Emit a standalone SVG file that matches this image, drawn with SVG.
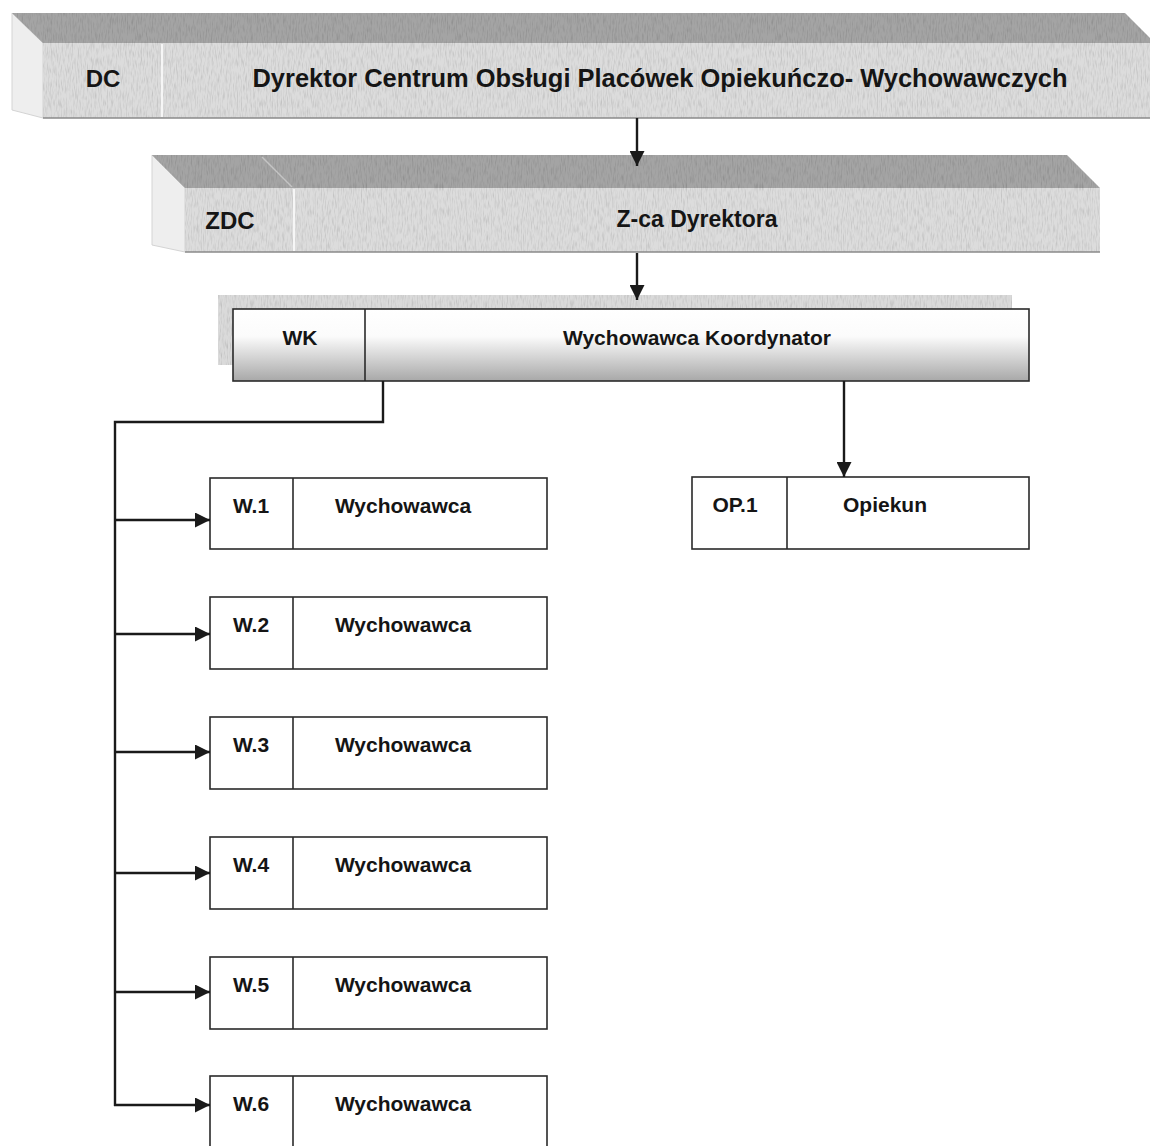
<svg xmlns="http://www.w3.org/2000/svg" width="1150" height="1146" viewBox="0 0 1150 1146">
  <defs>
    <style>
      .t { font-family: "Liberation Sans", Arial, sans-serif; font-weight: bold; fill: #151515; text-anchor: middle; }
      .big { font-size: 25px; }
      .mid { font-size: 24px; }
      .sm { font-size: 21px; }
      .box { fill: #ffffff; stroke: #2a2a2a; stroke-width: 1.6; }
      .div { stroke: #2a2a2a; stroke-width: 1.6; }
      .front { fill: #dcdcdc; }
      .top { fill: #a4a4a4; }
      .side { fill: #eeeeee; stroke: #d4d4d4; stroke-width: 1; }
      .lightdiv { stroke: #f6f6f6; stroke-width: 2; }
      .edge { stroke: #8a8a8a; stroke-width: 1.5; }
      .conn { fill: none; stroke: #1a1a1a; stroke-width: 2.4; }
    </style>
    <filter id="grain" x="0" y="0" width="1" height="1">
      <feTurbulence type="fractalNoise" baseFrequency="0.8 0.12" numOctaves="2" seed="4" result="n"/>
      <feColorMatrix in="n" type="matrix" values="0 0 0 0 0  0 0 0 0 0  0 0 0 0 0  0.55 0 0 0 -0.24" result="a"/>
      <feComposite in="a" in2="SourceGraphic" operator="in" result="g"/>
      <feMerge>
        <feMergeNode in="SourceGraphic"/>
        <feMergeNode in="g"/>
      </feMerge>
    </filter>
    <linearGradient id="wkGrad" x1="0" y1="0" x2="0" y2="1">
      <stop offset="0" stop-color="#ffffff"/>
      <stop offset="0.38" stop-color="#fbfbfb"/>
      <stop offset="1" stop-color="#a8a8a8"/>
    </linearGradient>
    <marker id="arr" viewBox="0 0 15 15" refX="15" refY="7.5" markerWidth="15" markerHeight="15" markerUnits="userSpaceOnUse" orient="auto">
      <path d="M0,0 L15,7.5 L0,15 z" fill="#1a1a1a"/>
    </marker>
  </defs>

  <rect x="0" y="0" width="1150" height="1146" fill="#ffffff"/>

  <g id="node-dc">
    <polygon class="side" points="12,13 43,43 43,118 12,110"/>
    <polygon class="top" filter="url(#grain)" points="12,13 1125,13 1150,38 1150,43 43,43"/>
    <rect class="front" filter="url(#grain)" x="43" y="43" width="1107" height="75"/>
    <line class="lightdiv" x1="162" y1="44" x2="162" y2="117"/>
    <line class="edge" x1="43" y1="118" x2="1150" y2="118"/>
    <text class="t mid" x="103" y="87">DC</text>
    <text class="t big" x="660" y="87" textLength="815" lengthAdjust="spacingAndGlyphs">Dyrektor Centrum Obsługi Placówek Opiekuńczo- Wychowawczych</text>
  </g>

  <g id="node-zdc">
    <polygon class="side" points="152,155 185,188 185,252 152,245"/>
    <polygon class="top" filter="url(#grain)" points="152,155 1067,155 1100,188 185,188"/>
    <line x1="262" y1="157" x2="292" y2="187" stroke="#c4c4c4" stroke-width="1.5"/>
    <rect class="front" filter="url(#grain)" x="185" y="188" width="915" height="64"/>
    <line class="lightdiv" x1="294" y1="189" x2="294" y2="251"/>
    <line class="edge" x1="185" y1="252" x2="1100" y2="252"/>
    <text class="t mid" x="230" y="229">ZDC</text>
    <text class="t mid" x="697" y="227" textLength="161" lengthAdjust="spacingAndGlyphs">Z-ca Dyrektora</text>
  </g>

  <g id="node-wk">
    <rect x="218" y="295" width="794" height="70" fill="#dadada" filter="url(#grain)"/>
    <rect x="233" y="309" width="796" height="72" fill="url(#wkGrad)" stroke="#2a2a2a" stroke-width="1.6"/>
    <line class="div" x1="365" y1="309" x2="365" y2="381"/>
    <text class="t sm" x="300" y="345">WK</text>
    <text class="t sm" x="697" y="345">Wychowawca Koordynator</text>
  </g>

  <g id="node-op1">
    <rect class="box" x="692" y="477" width="337" height="72"/>
    <line class="div" x1="787" y1="477" x2="787" y2="549"/>
    <text class="t sm" x="735" y="512">OP.1</text>
    <text class="t sm" x="885" y="512">Opiekun</text>
  </g>

  <g id="node-w1">
    <rect class="box" x="210" y="478" width="337" height="71"/>
    <line class="div" x1="293" y1="478" x2="293" y2="549"/>
    <text class="t sm" x="251" y="513">W.1</text>
    <text class="t sm" x="403" y="513">Wychowawca</text>
  </g>
  <g id="node-w2">
    <rect class="box" x="210" y="597" width="337" height="72"/>
    <line class="div" x1="293" y1="597" x2="293" y2="669"/>
    <text class="t sm" x="251" y="632">W.2</text>
    <text class="t sm" x="403" y="632">Wychowawca</text>
  </g>
  <g id="node-w3">
    <rect class="box" x="210" y="717" width="337" height="72"/>
    <line class="div" x1="293" y1="717" x2="293" y2="789"/>
    <text class="t sm" x="251" y="752">W.3</text>
    <text class="t sm" x="403" y="752">Wychowawca</text>
  </g>
  <g id="node-w4">
    <rect class="box" x="210" y="837" width="337" height="72"/>
    <line class="div" x1="293" y1="837" x2="293" y2="909"/>
    <text class="t sm" x="251" y="872">W.4</text>
    <text class="t sm" x="403" y="872">Wychowawca</text>
  </g>
  <g id="node-w5">
    <rect class="box" x="210" y="957" width="337" height="72"/>
    <line class="div" x1="293" y1="957" x2="293" y2="1029"/>
    <text class="t sm" x="251" y="992">W.5</text>
    <text class="t sm" x="403" y="992">Wychowawca</text>
  </g>
  <g id="node-w6">
    <rect class="box" x="210" y="1076" width="337" height="80"/>
    <line class="div" x1="293" y1="1076" x2="293" y2="1150"/>
    <text class="t sm" x="251" y="1111">W.6</text>
    <text class="t sm" x="403" y="1111">Wychowawca</text>
  </g>

  <g id="connectors">
    <line class="conn" x1="637" y1="118" x2="637" y2="166" marker-end="url(#arr)"/>
    <line class="conn" x1="637" y1="253" x2="637" y2="300" marker-end="url(#arr)"/>
    <line class="conn" x1="844" y1="381" x2="844" y2="477" marker-end="url(#arr)"/>
    <path class="conn" d="M383,381 V422 H115 V1106"/>
    <line class="conn" x1="115" y1="520" x2="210" y2="520" marker-end="url(#arr)"/>
    <line class="conn" x1="115" y1="634" x2="210" y2="634" marker-end="url(#arr)"/>
    <line class="conn" x1="115" y1="752" x2="210" y2="752" marker-end="url(#arr)"/>
    <line class="conn" x1="115" y1="873" x2="210" y2="873" marker-end="url(#arr)"/>
    <line class="conn" x1="115" y1="992" x2="210" y2="992" marker-end="url(#arr)"/>
    <line class="conn" x1="114" y1="1105" x2="210" y2="1105" marker-end="url(#arr)"/>
  </g>
</svg>
